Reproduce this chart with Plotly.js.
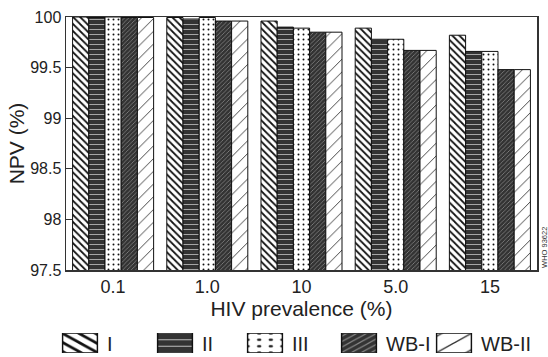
<!DOCTYPE html>
<html><head><meta charset="utf-8">
<script src="https://cdn.plot.ly/plotly-3.0.1.min.js"></script>
<style>html,body{margin:0;padding:0;background:#fff}#chart{width:548px;height:357px}</style>
</head><body><div id="chart"></div>
<script>
const categories = ["0.1", "1.0", "10", "5.0", "15"];
const seriesNames = ["I", "II", "III", "WB-I", "WB-II"];
const valuesI    = [100.0, 99.995, 99.96, 99.89, 99.82];
const valuesII   = [99.995, 99.98, 99.90, 99.78, 99.66];
const valuesIII  = [100.0, 99.995, 99.89, 99.78, 99.66];
const valuesWBI  = [99.995, 99.96, 99.85, 99.67, 99.48];
const valuesWBII = [99.995, 99.96, 99.85, 99.67, 99.48];
const seriesValues = [valuesI, valuesII, valuesIII, valuesWBI, valuesWBII];

const patterns = [
  {shape: "\\", fgcolor: "#111", bgcolor: "#fff", size: 5, solidity: 0.35},
  {shape: "-", fgcolor: "#ccc", bgcolor: "#333", size: 5, solidity: 0.15},
  {shape: ".", fgcolor: "#111", bgcolor: "#fff", size: 5, solidity: 0.12},
  {shape: "/", fgcolor: "#888", bgcolor: "#333", size: 3, solidity: 0.25},
  {shape: "/", fgcolor: "#333", bgcolor: "#fff", size: 9, solidity: 0.1}
];

const legendIds = ["legend", "legend2", "legend3", "legend4", "legend5"];
const legendTextX = [109, 204, 294, 388, 483];

const traces = seriesNames.map((n, i) => ({
  type: "bar", name: n, x: categories, y: seriesValues[i], legend: legendIds[i],
  marker: {color: patterns[i].bgcolor, line: {color: "#111", width: 1}, pattern: patterns[i]}
}));

const font = {family: "Liberation Sans, Arial, sans-serif", color: "#222"};
const layout = {
  width: 548, height: 357,
  margin: {l: 66, r: 11, t: 17, b: 87},
  paper_bgcolor: "#fff", plot_bgcolor: "#fff",
  font: Object.assign({size: 16}, font),
  barmode: "group", bargap: 0.14, bargroupgap: 0,
  xaxis: {type: "category", showline: true, linecolor: "#333", linewidth: 1.5, mirror: true,
    ticks: "", tickfont: {size: 18}, title: {text: "HIV prevalence (%)", font: {size: 21}, standoff: 1}},
  yaxis: {range: [97.5, 100], dtick: 0.5, showgrid: false, zeroline: false, showline: true, linecolor: "#333",
    linewidth: 1.5, mirror: true, ticks: "inside", ticklen: 6, tickcolor: "#333", tickfont: {size: 16},
    title: {text: "NPV (%)", font: {size: 21}, standoff: 0}},
  showlegend: true,
  annotations: [{xref: "paper", yref: "paper", x: 1.002, y: 0.0, xanchor: "left", yanchor: "bottom",
    text: "WHO 93622", textangle: -90, showarrow: false, font: {size: 7.5, color: "#333"}}]
};
legendIds.forEach((id, i) => {
  layout[id] = {orientation: "h", xref: "container", yref: "container", itemwidth: 40,
    x: (legendTextX[i] - 52) / 548, xanchor: "left", y: (357 - 343) / 357, yanchor: "middle",
    font: {size: 20}, bgcolor: "rgba(0,0,0,0)", borderwidth: 0};
});

Plotly.newPlot("chart", traces, layout, {displayModeBar: false, staticPlot: true}).then(gd => {
  document.querySelectorAll(".legendpoints path").forEach(p => {
    p.setAttribute("transform", "translate(23,0) scale(2.9,1.6)");
    p.style.strokeWidth = "0.5px";
  });
});
</script></body></html>
